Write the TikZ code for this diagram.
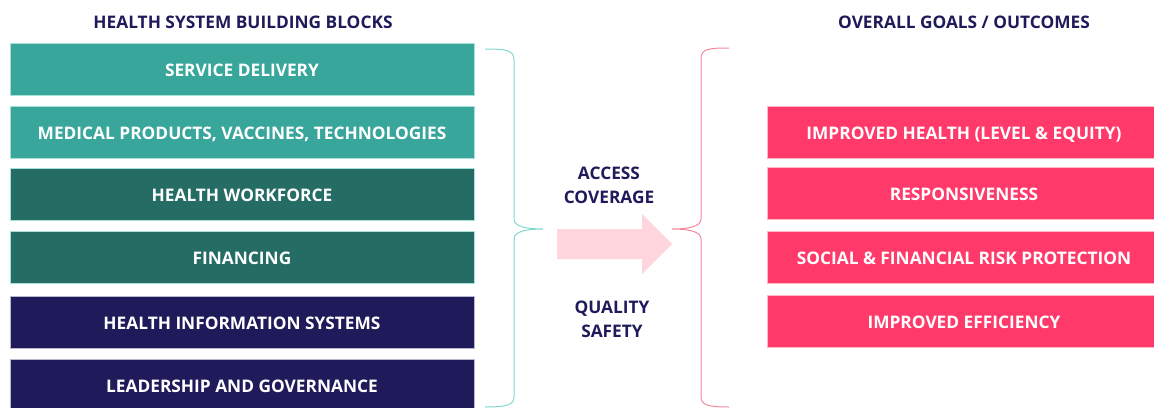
\documentclass[tikz,border=0pt]{standalone}
\usepackage{fontspec}
\setmainfont{Open Sans}
\definecolor{tealA}{HTML}{38A69B}
\definecolor{tealB}{HTML}{256C64}
\definecolor{navy}{HTML}{1F1B5B}
\definecolor{rose}{HTML}{FF3A6A}
\definecolor{roselight}{HTML}{FFD5DE}
\definecolor{braceteal}{HTML}{80D8CE}
\definecolor{bracerose}{HTML}{F4889E}
\definecolor{edgeteal}{HTML}{A6E2DA}
\definecolor{edgenavy}{HTML}{B9B7D0}
\definecolor{edgerose}{HTML}{FFB6C5}
\tikzset{
  x=1pt, y=-1pt,
  lbl/.style={font=\bfseries\fontsize{17.3}{24}\selectfont},
  boxtext/.style={lbl, text=white, inner sep=0pt, line width=1pt,
    text height=14.3pt, text depth=0pt},
  block/.style={boxtext, minimum width=464pt, minimum height=52pt},
  goal/.style={boxtext, fill=rose, draw=edgerose,
    minimum width=394pt, minimum height=52pt},
  heading/.style={lbl, text=navy},
  bracket/.style={line width=1pt},
}
\begin{document}
\begin{tikzpicture}
\useasboundingbox (0,0) rectangle (1154,407);
\clip (0,0) rectangle (1154,407);

% column headings
\node[heading] (hleft) at (243,22) {HEALTH SYSTEM BUILDING BLOCKS};
\node[heading] (hright) at (964,22) {OVERALL GOALS / OUTCOMES};

% building blocks
\node[block, fill=tealA, draw=edgeteal] (b1) at (242,69.5) {SERVICE DELIVERY};
\node[block, fill=tealA, draw=edgeteal] (b2) at (242,132) {MEDICAL PRODUCTS, VACCINES, TECHNOLOGIES};
\node[block, fill=tealB, draw=edgeteal] (b3) at (242,194) {HEALTH WORKFORCE};
\node[block, fill=tealB, draw=edgeteal] (b4) at (242,257.5) {FINANCING};
\node[block, fill=navy, draw=edgenavy] (b5) at (242,322) {HEALTH INFORMATION SYSTEMS};
\node[block, fill=navy, draw=edgenavy] (b6) at (242,385) {LEADERSHIP AND GOVERNANCE};

% goals / outcomes
\node[goal] (g1) at (964,132) {IMPROVED HEALTH (LEVEL \& EQUITY)};
\node[goal] (g2) at (964,193.5) {RESPONSIVENESS};
\node[goal] (g3) at (964,257.5) {SOCIAL \& FINANCIAL RISK PROTECTION};
\node[goal] (g4) at (964,321.5) {IMPROVED EFFICIENCY};

% intermediate objectives
\node[heading, align=center] (access) at (609,185) {ACCESS\\COVERAGE};
\node[heading, align=center] (quality) at (612,319) {QUALITY\\SAFETY};

% left curly bracket
\draw[bracket, braceteal]
  (485,49) .. controls (506,49) and (514,50) .. (514,60)
  -- (514,219) .. controls (514,227) and (528,229) .. (543,229)
  .. controls (528,229) and (514,231) .. (514,239)
  -- (514,397) .. controls (514,405) and (506,407) .. (485,407);

% right curly bracket
\draw[bracket, bracerose]
  (729,48) .. controls (708,48) and (701,49) .. (701,59)
  -- (701,219) .. controls (701,227) and (687,229) .. (672,229)
  .. controls (687,229) and (701,231) .. (701,239)
  -- (701,397) .. controls (701,405) and (708,407) .. (729,407);

% block arrow
\fill[roselight] (557,229) -- (642,229) -- (642,214) -- (672,244)
  -- (642,274) -- (642,259) -- (557,259) -- cycle;
\end{tikzpicture}
\end{document}
